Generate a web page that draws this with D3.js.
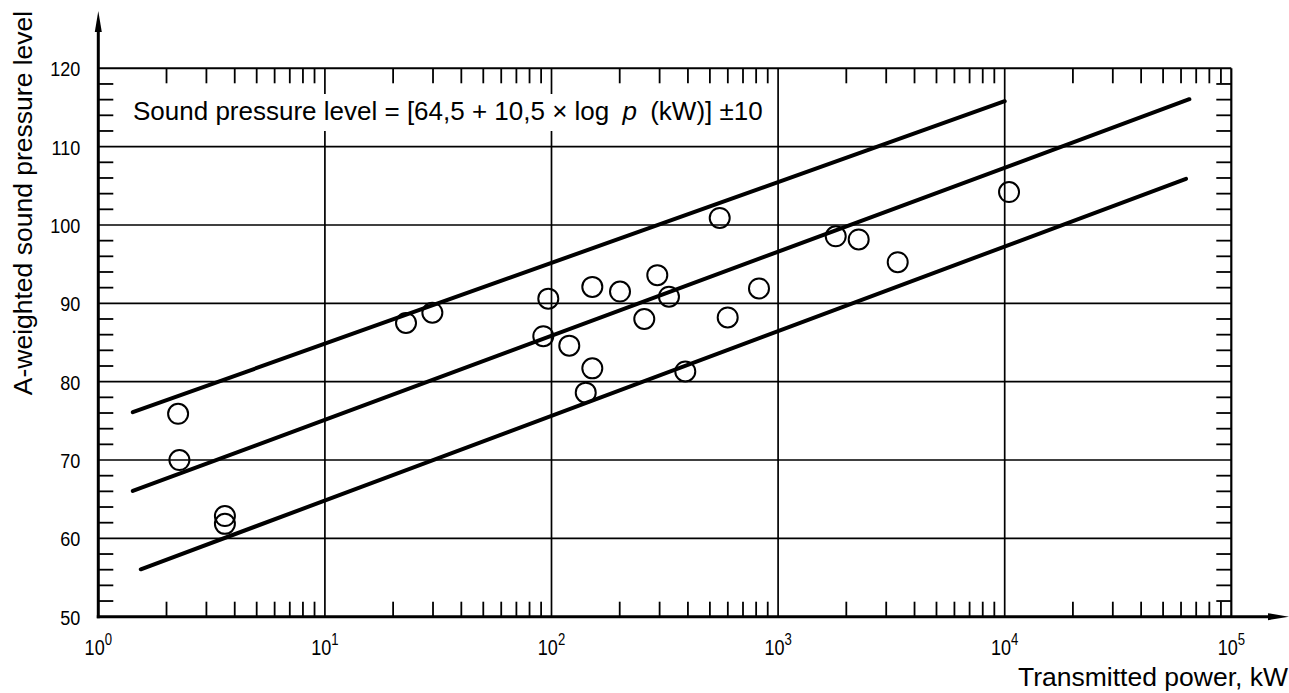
<!DOCTYPE html>
<html><head><meta charset="utf-8">
<script src="https://cdn.jsdelivr.net/npm/d3@7"></script>
<style>
body{margin:0;background:#fff}
svg{display:block}
text{font-family:"Liberation Sans",Arial,Helvetica,sans-serif;fill:#000}
</style>
</head><body>
<svg id="chart" width="1289" height="693"></svg>
<script>
// ---- data ----
const powerKW = [2.25, 2.28, 3.62, 3.62, 22.8, 29.8, 96.8, 92.0, 119.8, 151.4, 151.4, 141.6, 200.6, 256.7, 293.0, 329.9, 389.4, 552.5, 599.2, 823.5, 1796, 2268, 3372, 10450];
const levelDB = [75.9, 70.0, 62.85, 61.85, 87.5, 88.8, 90.6, 85.8, 84.6, 92.1, 81.7, 78.6, 91.5, 88.0, 93.6, 90.85, 81.3, 100.9, 88.2, 91.9, 98.55, 98.15, 95.25, 104.2];

const bandNames  = ["upper (+10)", "centre", "lower (-10)"];
const bandStartP = [1.42, 1.42, 1.54];
const bandStartL = [76.1, 66.05, 56.05];
const bandEndP   = [10000, 65300, 63100];
const bandEndL   = [115.8, 116.05, 105.9];

const yMajorTicks = [50, 60, 70, 80, 90, 100, 110, 120];
const xDecades = [1, 10, 100, 1000, 10000, 100000];
const xExponents = ["0", "1", "2", "3", "4", "5"];
const yTitle = "A-weighted sound pressure level";
const xTitle = "Transmitted power, kW";
const formulaA = "Sound pressure level = [64,5 + 10,5 × log ";
const formulaP = "p";
const formulaB = " (kW)] ±10";

// ---- drawing ----
const svg = d3.select("#chart");
const x = d3.scaleLog().domain([1, 100000]).range([98.3, 1231.3]);
const y = d3.scaleLinear().domain([50, 120]).range([616.7, 68.3]);
const X0 = x(1), X1 = x(100000), Y0 = y(50), Y1 = y(120);

// minor ticks
const xMinor = [];
xDecades.slice(0, -1).forEach(d => { for (let k = 2; k <= 9; k++) xMinor.push(d * k); });
const yMinor = d3.range(52, 120, 2).filter(v => v % 10 !== 0);

const g = svg.append("g");

// grid
g.append("g").selectAll("line").data(xDecades.slice(1, -1)).join("line")
  .attr("x1", d => x(d)).attr("x2", d => x(d)).attr("y1", Y0).attr("y2", Y1)
  .attr("stroke", "#000").attr("stroke-width", 1.7);
g.append("g").selectAll("line").data(yMajorTicks.slice(1, -1)).join("line")
  .attr("x1", X0).attr("x2", X1).attr("y1", d => y(d)).attr("y2", d => y(d))
  .attr("stroke", "#000").attr("stroke-width", 1.7);

// top / right border + ticks
g.append("line").attr("x1", X0).attr("x2", X1).attr("y1", Y1).attr("y2", Y1)
  .attr("stroke", "#000").attr("stroke-width", 2);
g.append("line").attr("x1", X1).attr("x2", X1).attr("y1", Y1).attr("y2", Y0)
  .attr("stroke", "#000").attr("stroke-width", 2.2);
g.append("g").selectAll("line").data(xMinor).join("line")
  .attr("x1", d => x(d)).attr("x2", d => x(d)).attr("y1", Y1).attr("y2", Y1 + 15)
  .attr("stroke", "#000").attr("stroke-width", 1.8);
g.append("g").selectAll("line").data(xMinor).join("line")
  .attr("x1", d => x(d)).attr("x2", d => x(d)).attr("y1", Y0).attr("y2", Y0 - 15)
  .attr("stroke", "#000").attr("stroke-width", 1.8);
g.append("g").selectAll("line").data(yMinor).join("line")
  .attr("x1", X0).attr("x2", X0 + 15).attr("y1", d => y(d)).attr("y2", d => y(d))
  .attr("stroke", "#000").attr("stroke-width", 1.8);
g.append("g").selectAll("line").data(yMinor).join("line")
  .attr("x1", X1).attr("x2", X1 - 15).attr("y1", d => y(d)).attr("y2", d => y(d))
  .attr("stroke", "#000").attr("stroke-width", 1.8);

// formula box
g.append("rect").attr("x", 126).attr("y", 94).attr("width", 645).attr("height", 37).attr("fill", "#fff");
const ft = g.append("text").attr("x", 133).attr("y", 119.5).attr("font-size", 26).attr("xml:space", "preserve");
ft.append("tspan").text(formulaA);
ft.append("tspan").attr("font-style", "italic").attr("dx", 6).text(formulaP);
ft.append("tspan").attr("dx", 6).text(formulaB);

// band lines
const bands = bandNames.map((n, i) => [[bandStartP[i], bandStartL[i]], [bandEndP[i], bandEndL[i]]]);
const line = d3.line().x(d => x(d[0])).y(d => y(d[1]));
g.append("g").selectAll("path").data(bands).join("path")
  .attr("d", line).attr("fill", "none").attr("stroke", "#000")
  .attr("stroke-width", 4).attr("stroke-linecap", "round");

// points
g.append("g").selectAll("circle").data(powerKW.map((p, i) => [p, levelDB[i]])).join("circle")
  .attr("cx", d => x(d[0])).attr("cy", d => y(d[1])).attr("r", 10)
  .attr("fill", "none").attr("stroke", "#000").attr("stroke-width", 2);

// main axes with arrows
g.append("line").attr("x1", X0).attr("x2", X0).attr("y1", Y0 + 1.5).attr("y2", 28)
  .attr("stroke", "#000").attr("stroke-width", 3);
g.append("path").attr("d", `M${X0},11 L${X0 - 3.5},32 L${X0 + 3.5},32 Z`).attr("fill", "#000");
g.append("line").attr("x1", X0 - 1.5).attr("x2", 1272).attr("y1", Y0).attr("y2", Y0)
  .attr("stroke", "#000").attr("stroke-width", 3);
g.append("path").attr("d", `M1289,${Y0} L1268,${Y0 - 3.5} L1268,${Y0 + 3.5} Z`).attr("fill", "#000");

// y tick labels via d3 axis (condensed look)
const yAxis = d3.axisLeft(y).tickValues(yMajorTicks).tickSize(0).tickPadding(0).tickFormat(d3.format("d"));
const ya = g.append("g").attr("transform", `translate(${X0 - 18},0)`).call(yAxis);
ya.select(".domain").remove();
ya.selectAll("text").attr("x", 0).attr("font-size", 21).attr("dy", "0.36em")
  .attr("transform", "scale(0.86,1)")
  .attr("font-family", "Liberation Sans, Arial, sans-serif").attr("fill", "#000");

// x tick labels
const xl = g.append("g").selectAll("g").data(xDecades).join("g")
  .attr("transform", d => `translate(${x(d)},655)`)
  .append("text").attr("transform", "scale(0.82,1)")
  .attr("text-anchor", "middle").attr("font-size", 22);
xl.append("tspan").text("10");
xl.append("tspan").attr("font-size", 16).attr("dy", -10).text((d, i) => xExponents[i]);

// titles
g.append("text").attr("transform", "translate(32,203) rotate(-90)").attr("text-anchor", "middle")
  .attr("font-size", 26.5).text(yTitle);
g.append("text").attr("x", 1288).attr("y", 686).attr("text-anchor", "end")
  .attr("font-size", 26.5).text(xTitle);
</script>
</body></html>
